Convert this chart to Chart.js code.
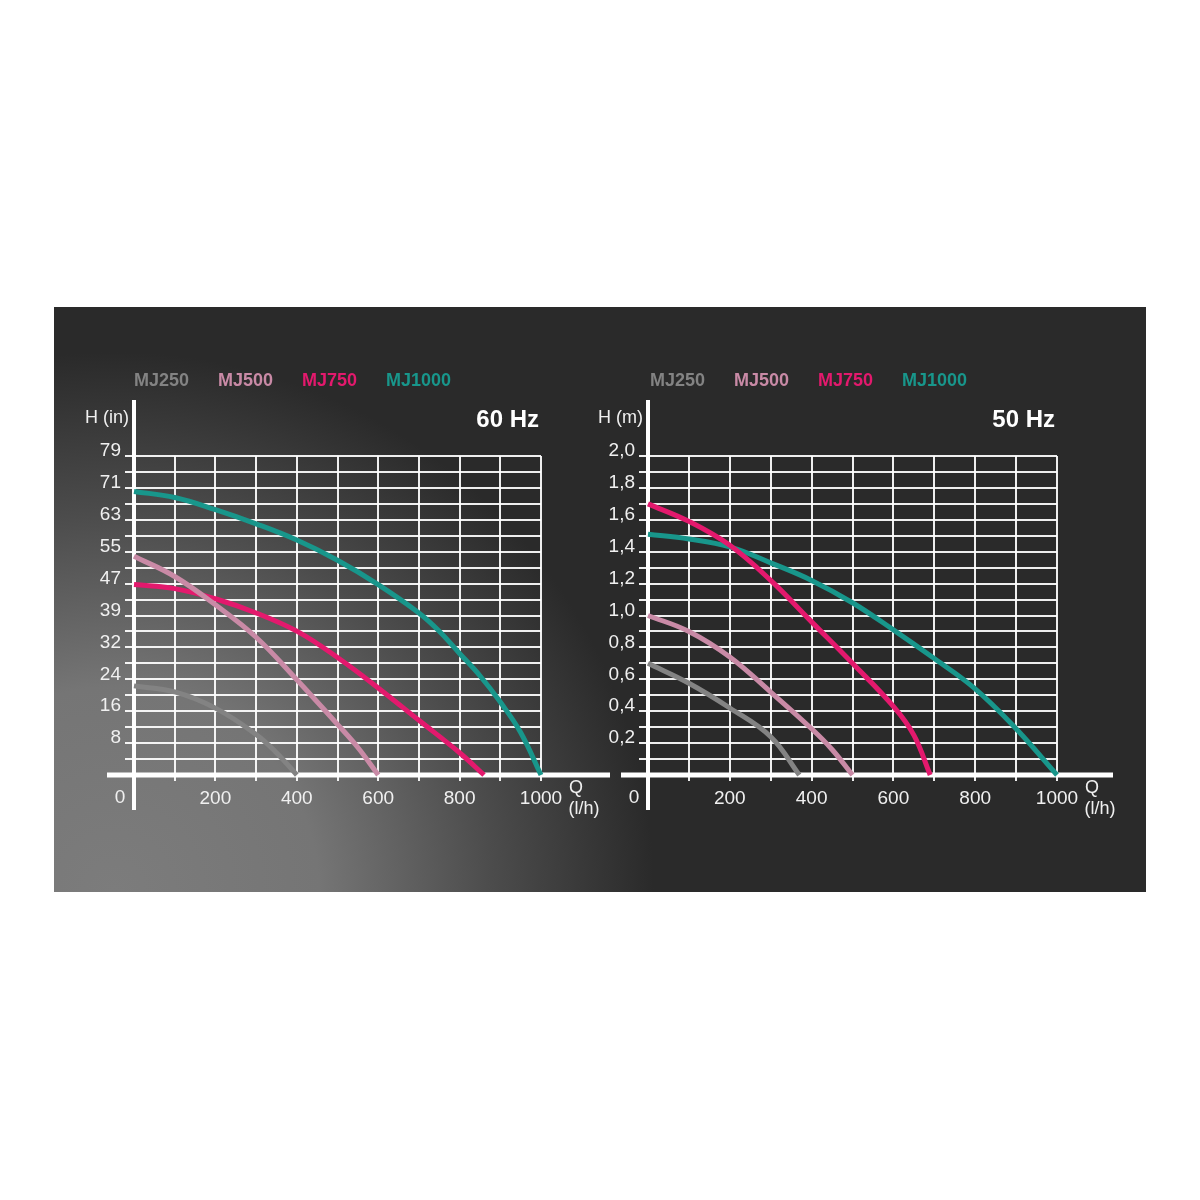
<!doctype html>
<html lang="en">
<head>
<meta charset="utf-8">
<title>MJ pump curves</title>
<style>
  body { margin: 0; background: #fff; }
  #panel {
    position: absolute; left: 54px; top: 307px; width: 1092px; height: 585px;
    background: radial-gradient(ellipse 540px 540px at 60px 585px, #7c7c7c 0%, #757575 38%, #4c4c4c 70%, #2a2a2a 100%), #2a2a2a;
  }
  canvas { position: absolute; }
</style>
</head>
<body>
<div id="panel"></div>
<canvas id="c60" style="left:54px;top:307px;width:570px;height:585px" width="570" height="585"></canvas>
<canvas id="c50" style="left:580px;top:307px;width:566px;height:585px" width="566" height="585"></canvas>

<script src="https://cdn.jsdelivr.net/npm/chart.js@4.4.0/dist/chart.umd.min.js"></script>
<script>
// models + colours
const models = ['MJ250', 'MJ500', 'MJ750', 'MJ1000'];
const colors = ['#838383', '#c98aa6', '#e3196d', '#18968b'];

// x axis (Q, l/h)
const xTicks = [0, 100, 200, 300, 400, 500, 600, 700, 800, 900, 1000];
const xLabels = [200, 400, 600, 800, 1000];

// y tick labels (one per 0.2 m)
const yLabelsIn = ['8', '16', '24', '32', '39', '47', '55', '63', '71', '79'];
const yLabelsM = ['0,2', '0,4', '0,6', '0,8', '1,0', '1,2', '1,4', '1,6', '1,8', '2,0'];

// 60 Hz, H in inches
const q60_250 = [0, 100, 200, 300, 350, 400];
const h60_250 = [22, 20.5, 16.5, 10, 5.5, 0];
const q60_500 = [0, 100, 200, 300, 400, 500, 550, 600];
const h60_500 = [54, 49, 42, 34, 23.5, 12.5, 6.8, 0];
const q60_750 = [0, 100, 200, 300, 400, 500, 600, 700, 800, 860];
const h60_750 = [47, 46, 43.5, 40, 35.5, 29, 21.5, 13.5, 5.5, 0];
const q60_1000 = [0, 100, 200, 300, 400, 500, 600, 700, 750, 800, 850, 900, 950, 1000];
const h60_1000 = [70, 68.5, 65.5, 62, 58, 53, 47, 40, 35.5, 30, 24.5, 18, 10.5, 0];

// 50 Hz, H in metres
const q50_250 = [0, 100, 200, 300, 370];
const h50_250 = [0.70, 0.575, 0.42, 0.24, 0];
const q50_500 = [0, 100, 200, 300, 400, 450, 500];
const h50_500 = [1.0, 0.9, 0.74, 0.52, 0.29, 0.16, 0];
const q50_750 = [0, 100, 200, 300, 400, 500, 600, 650, 690];
const h50_750 = [1.70, 1.59, 1.44, 1.22, 0.96, 0.70, 0.43, 0.25, 0];
const q50_1000 = [0, 100, 200, 300, 400, 500, 600, 700, 800, 900, 1000];
const h50_1000 = [1.51, 1.48, 1.43, 1.33, 1.22, 1.08, 0.91, 0.73, 0.54, 0.29, 0];

const FONT = '"Liberation Sans", Arial, sans-serif';
const GRID = 'rgba(255,255,255,0.92)';
const TEXT = '#f0f0f0';

function pts(q, h) {
  return q.map((x, i) => ({ x: x, y: h[i] }));
}

// axes lines, legend and titles
const deco = {
  id: 'deco',
  beforeDatasetsDraw(chart, args, o) {
    const { ctx, chartArea: a, scales: { x, y } } = chart;
    const x0 = x.getPixelForValue(0), y0 = y.getPixelForValue(0);
    ctx.save();
    ctx.strokeStyle = '#fff';
    ctx.lineWidth = 4;
    ctx.beginPath(); ctx.moveTo(x0, a.top - 56); ctx.lineTo(x0, a.bottom + 35); ctx.stroke();
    ctx.lineWidth = 5;
    ctx.beginPath(); ctx.moveTo(a.left - 27, y0); ctx.lineTo(a.right + o.xExt, y0); ctx.stroke();
    ctx.restore();
  },
  afterDraw(chart, args, o) {
    const { ctx, chartArea: a } = chart;
    ctx.save();
    ctx.textBaseline = 'middle';

    ctx.font = 'bold 18px ' + FONT;
    ctx.textAlign = 'left';
    models.forEach((m, i) => {
      ctx.fillStyle = colors[i];
      ctx.fillText(m, a.left + o.legendDx + i * 84, a.top - 75);
    });

    ctx.fillStyle = '#fff';
    ctx.font = 'bold 24px ' + FONT;
    ctx.textAlign = 'right';
    ctx.fillText(o.title, a.right - 2, a.top - 36);

    ctx.fillStyle = TEXT;
    ctx.font = '18px ' + FONT;
    ctx.fillText(o.yTitle, a.left - 5, a.top - 38);

    ctx.textAlign = 'center';
    ctx.fillText('Q', a.right + 35, a.bottom + 13);
    ctx.fillText('(l/h)', a.right + 43, a.bottom + 34);

    ctx.font = '19px ' + FONT;
    ctx.fillText('0', a.left - 14, a.bottom + 23);
    ctx.restore();
  }
};

function makeChart(id, series, yMax, yLabels, o) {
  const datasets = series.map((s, i) => ({
    label: models[i],
    data: pts(s[0], s[1]),
    borderColor: colors[i],
    borderWidth: 5,
    borderCapStyle: 'butt',
    borderJoinStyle: 'round',
    pointRadius: 0,
    fill: false,
    tension: 0.4,
    clip: false
  }));

  return new Chart(document.getElementById(id), {
    type: 'line',
    data: { datasets: datasets },
    plugins: [deco],
    options: {
      responsive: false,
      animation: false,
      layout: { padding: { top: 149, right: o.padRight, left: 0, bottom: 0 } },
      plugins: {
        legend: { display: false },
        tooltip: { enabled: false },
        deco: { title: o.title, yTitle: o.yTitle, legendDx: o.legendDx, xExt: o.xExt }
      },
      scales: {
        x: {
          type: 'linear',
          min: 0,
          max: 1000,
          afterBuildTicks: s => { s.ticks = xTicks.map(v => ({ value: v })); },
          afterFit: s => { s.height = 117; },
          border: { display: false },
          grid: { color: GRID, lineWidth: 2, tickLength: 6, drawTicks: true },
          ticks: {
            color: TEXT,
            font: { family: FONT, size: 19 },
            padding: 6,
            maxRotation: 0,
            autoSkip: false,
            callback: v => xLabels.includes(v) ? String(v) : ''
          }
        },
        y: {
          type: 'linear',
          min: 0,
          max: yMax,
          afterBuildTicks: s => {
            s.ticks = [];
            for (let i = 0; i <= 20; i++) s.ticks.push({ value: yMax * i / 20 });
          },
          afterFit: s => { s.width = o.yWidth; },
          border: { display: false },
          grid: { color: GRID, lineWidth: 2, tickLength: 9, drawTicks: true },
          ticks: {
            color: TEXT,
            font: { family: FONT, size: 19 },
            padding: 4,
            labelOffset: -5,
            autoSkip: false,
            callback: (v, i) => (i > 0 && i % 2 === 0) ? yLabels[i / 2 - 1] : ''
          }
        }
      }
    }
  });
}

makeChart('c60', [
  [q60_250, h60_250], [q60_500, h60_500], [q60_750, h60_750], [q60_1000, h60_1000]
], 78.74, yLabelsIn, { title: '60 Hz', yTitle: 'H (in)', legendDx: 0, xExt: 69, yWidth: 80, padRight: 83 });

makeChart('c50', [
  [q50_250, h50_250], [q50_500, h50_500], [q50_750, h50_750], [q50_1000, h50_1000]
], 2.0, yLabelsM, { title: '50 Hz', yTitle: 'H (m)', legendDx: 2, xExt: 56, yWidth: 68, padRight: 89 });
</script>
</body>
</html>
